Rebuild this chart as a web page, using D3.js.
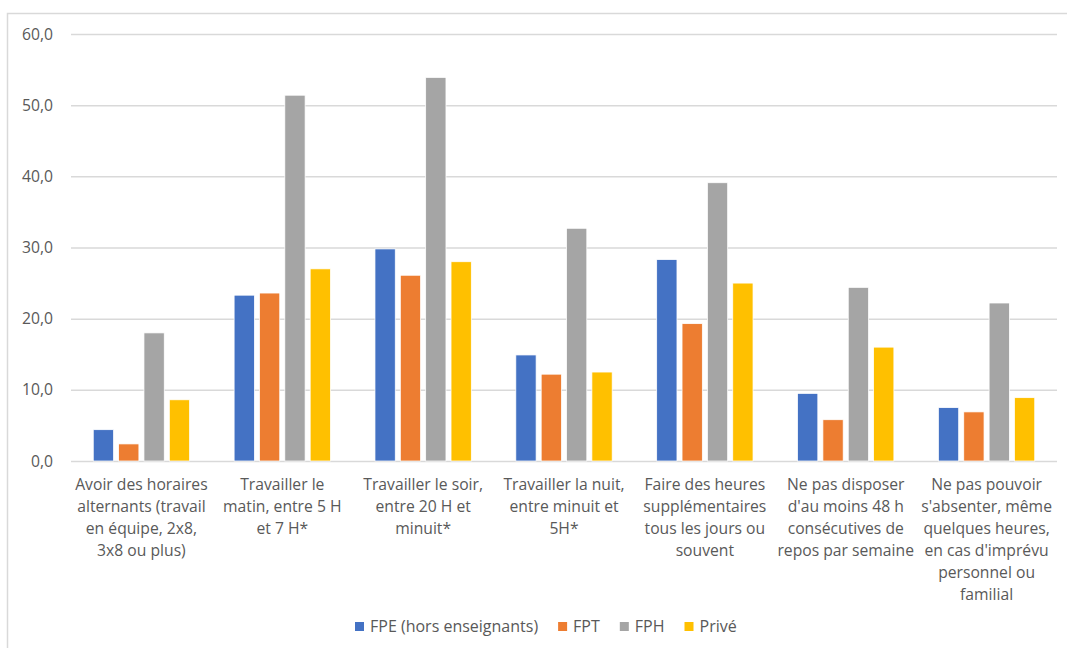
<!DOCTYPE html>
<html>
<head>
<meta charset="utf-8">
<script src="https://cdn.jsdelivr.net/npm/d3@7"></script>
<style>
  body { margin: 0; background: #fff; }
  svg text { font-family: "Open Sans", sans-serif; fill: #595959; }
</style>
</head>
<body>
<div id="chart"></div>
<script>
// categories, one array of lines per label
var categories = [
  ["Avoir des horaires", "alternants (travail", "en équipe, 2x8,", "3x8 ou plus)"],
  ["Travailler le", "matin, entre 5 H", "et 7 H*"],
  ["Travailler le soir,", "entre 20 H et", "minuit*"],
  ["Travailler la nuit,", "entre minuit et", "5H*"],
  ["Faire des heures", "supplémentaires", "tous les jours ou", "souvent"],
  ["Ne pas disposer", "d'au moins 48 h", "consécutives de", "repos par semaine"],
  ["Ne pas pouvoir", "s'absenter, même", "quelques heures,", "en cas d'imprévu", "personnel ou", "familial"]
];
var seriesNames = ["FPE (hors enseignants)", "FPT", "FPH", "Privé"];
var fpe = [4.4, 23.3, 29.8, 14.9, 28.3, 9.5, 7.5];
var fpt = [2.4, 23.6, 26.1, 12.2, 19.3, 5.8, 6.9];
var fph = [18.0, 51.4, 53.9, 32.7, 39.1, 24.4, 22.2];
var prive = [8.6, 27.0, 28.0, 12.5, 25.0, 16.0, 8.9];
var yTicks = [0, 10, 20, 30, 40, 50, 60];

var colors = ["#4472C4", "#ED7D31", "#A5A5A5", "#FFC000"];
var series = [fpe, fpt, fph, prive];

var width = 1067;
var height = 648;
var padLeft = 71, padRight = 1057, padTop = 34, padBottom = 461;

var svg = d3.select("#chart").
append("svg").
attr("width", width).
attr("height", height);

// outer frame (only top and left edges visible in the crop)
svg.append("rect").
attr("x", 7.5).
attr("y", 13.5).
attr("width", width).
attr("height", height).
style("fill", "none").
style("stroke", "#D9D9D9").
style("stroke-width", 1.5);

var xScale = d3.scaleBand().
domain(d3.range(categories.length)).
range([padLeft, padRight]).
paddingInner(0.28).
paddingOuter(0.14);

var xSub = d3.scaleBand().
domain(d3.range(series.length)).
range([0, xScale.bandwidth()]).
paddingInner(0.2).
paddingOuter(0.1);

var yScale = d3.scaleLinear().
domain([0, 60]).
range([padBottom, padTop]);

var yAxis = d3.axisLeft(yScale).
tickValues(yTicks).
tickSize(-(padRight - padLeft)).
tickPadding(18).
tickFormat(function (d) {return d3.format(".1f")(d).replace(".", ",");});

var gy = svg.append("g").
attr("transform", "translate(" + padLeft + ",0)").
call(yAxis);
gy.select(".domain").remove();
gy.selectAll(".tick line").
style("stroke", "#D9D9D9").
style("stroke-width", 1.5);
gy.selectAll(".tick text").
style("font-size", "15.7px").
style("fill", "#595959").
style("font-family", "Open Sans");

// bars
var groups = svg.selectAll(".group").
data(categories).
enter().
append("g").
attr("class", "group").
attr("transform", function (d, i) {return "translate(" + xScale(i) + ",0)";});

groups.selectAll("rect").
data(function (d, i) {return series.map(function (s, j) {return { s: j, v: s[i] };});}).
enter().
append("rect").
attr("x", function (d) {return xSub(d.s);}).
attr("y", function (d) {return yScale(d.v);}).
attr("width", xSub.bandwidth()).
attr("height", function (d) {return yScale(0) - yScale(d.v);}).
style("fill", function (d) {return colors[d.s];}).
style("stroke", "#fff").
style("stroke-width", 0.75);

// category labels
groups.append("text").
attr("x", xScale.bandwidth() / 2).
attr("y", 490).
style("text-anchor", "middle").
style("font-size", "15.7px").
selectAll("tspan").
data(function (d) {return d;}).
enter().
append("tspan").
attr("x", xScale.bandwidth() / 2).
attr("dy", function (d, i) {return i === 0 ? 0 : 22;}).
text(function (d) {return d;});

// legend
var legend = svg.append("g").attr("id", "legend");
var lx = 355;
seriesNames.forEach(function (name, i) {
  legend.append("rect").
  attr("x", lx).
  attr("y", 622).
  attr("width", 9).
  attr("height", 9).
  style("fill", colors[i]);
  var t = legend.append("text").
  attr("x", lx + 15).
  attr("y", 632).
  style("font-size", "16px").
  text(name);
  lx += 15 + t.node().getComputedTextLength() + 20;
});
</script>
</body>
</html>
